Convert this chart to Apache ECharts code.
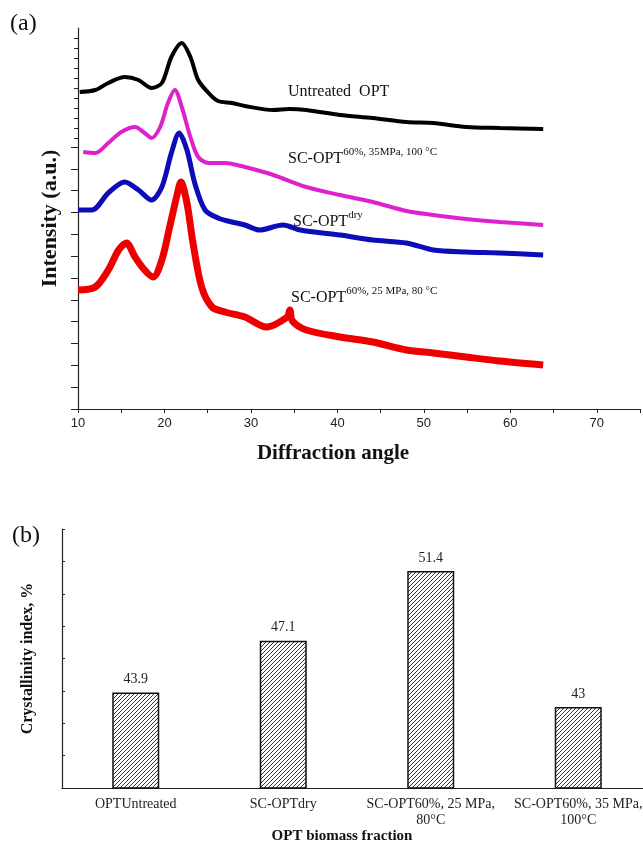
<!DOCTYPE html>
<html>
<head>
<meta charset="utf-8">
<script src="https://cdn.jsdelivr.net/npm/echarts@6/dist/echarts.min.js"></script>
<style>
  html, body { margin: 0; padding: 0; background: #fff; }
  #main { width: 643px; height: 847px; }
</style>
</head>
<body>
<div id="main"></div>
<script>
// (a) XRD patterns, [2theta, intensity a.u.]
const xrdUntreated = [[10.2,317],[12,319],[13.5,326],[15.4,332],[17,329],[18.5,321],[19.7,326],[20.8,352],[22,366],[23,352],[23.9,329],[25.1,316],[26.2,308],[27.8,306],[29.3,303],[32.6,299],[34.4,300],[36.4,299],[40.3,294],[44.1,291],[48,287],[51.1,286],[54.9,282],[58.8,281],[63.8,280]]
const xrd35MPa = [[10.6,257],[12,256],[13.5,266],[15,277],[16.6,282],[17.7,276],[18.5,271],[19.5,282],[20.4,306],[21.2,319],[22,302],[23,272],[23.9,252],[25.1,246],[27,246],[29.3,242],[32.6,234],[36.4,222],[40.3,214],[44.1,207],[48,198],[51.1,194],[54.9,190],[58.8,187],[63.8,184]]
const xrdDry = [[10,199],[11.6,199],[13.5,216],[15.4,227],[17,219],[18.5,209],[19.7,222],[20.8,256],[21.7,276],[22.6,259],[23.5,226],[24.7,199],[26.2,191],[27.8,187],[29.3,184],[31,179],[33.7,184],[35.7,179],[40.3,174],[44.1,169],[48,166],[51.1,159],[54.9,157],[58.8,156],[63.8,154]]
const xrd25MPa = [[10,119],[12,122],[13.5,139],[14.7,159],[15.6,166],[16.6,152],[17.7,139],[18.7,132],[19.7,149],[20.6,182],[21.4,212],[21.9,227],[22.6,206],[23.3,166],[24.3,122],[25.5,102],[27,97],[29.3,92],[31.8,82],[34.2,92],[34.5,99],[34.8,88],[36.4,79],[40.3,72],[44.1,67],[48,59],[51.1,56],[54.9,52],[58.8,48],[63.8,44]]

// (b) crystallinity index
const barCategories = ['OPTUntreated', 'SC-OPTdry', 'SC-OPT60%, 25 MPa,\n80°C', 'SC-OPT60%, 35 MPa,\n100°C']
const crystallinity = [43.9, 47.1, 51.4, 43]

const serif = '"Liberation Serif", "Times New Roman", serif'
const sans = '"Liberation Sans", Arial, sans-serif'

// diagonal hatch for the bars
function hatch() {
  const c = document.createElement('canvas')
  c.width = 4
  c.height = 4
  const ctx = c.getContext('2d')
  ctx.fillStyle = '#fff'
  ctx.fillRect(0, 0, 4, 4)
  ctx.strokeStyle = '#333'
  ctx.lineWidth = 1
  ctx.beginPath()
  ctx.moveTo(0, 4); ctx.lineTo(4, 0)
  ctx.moveTo(-1, 1); ctx.lineTo(1, -1)
  ctx.moveTo(3, 5); ctx.lineTo(5, 3)
  ctx.stroke()
  return c
}

function xrdLine(data, color, width) {
  return {
    type: 'line',
    xAxisIndex: 0,
    yAxisIndex: 0,
    data: data,
    smooth: 0.3,
    symbol: 'none',
    lineStyle: { color: color, width: width },
  }
}

function supLabel(x, y, main, sup) {
  return {
    type: 'text',
    left: x,
    top: y,
    style: {
      text: '{m|' + main + '}{s|' + sup + '}',
      fill: '#111',
      rich: {
        m: { fontFamily: serif, fontSize: 16, lineHeight: 20, verticalAlign: 'bottom', fill: '#111' },
        s: { fontFamily: serif, fontSize: 11, lineHeight: 12, verticalAlign: 'top', fill: '#111' },
      },
    },
  }
}

const myChart = echarts.init(document.getElementById('main'))
const option = {
  animation: false,
  backgroundColor: '#fff',
  grid: [
    { left: 78, right: 3, top: 28, bottom: 438, outerBoundsMode: 'none' }, // (a) data
    { left: 78, right: 3, top: 38, height: 100, outerBoundsMode: 'none' }, // (a) fine ticks at top
    { left: 78, right: 3, top: 147, bottom: 438, outerBoundsMode: 'none' }, // (a) coarse ticks
    { left: 62, right: -9, top: 529, bottom: 59, outerBoundsMode: 'none' }, // (b)
  ],
  xAxis: [
    {
      gridIndex: 0,
      type: 'value',
      min: 10,
      max: 75,
      interval: 5,
      axisLine: { lineStyle: { color: '#222', width: 1.2 } },
      axisTick: { length: 4, lineStyle: { color: '#222' } },
      axisLabel: {
        margin: 8,
        fontFamily: sans,
        fontSize: 13,
        color: '#222',
        formatter: function (v) { return v % 10 === 0 && v < 75 ? v : '' },
      },
      splitLine: { show: false },
      name: 'Diffraction angle',
      nameLocation: 'middle',
      nameGap: 34,
      nameTextStyle: { fontFamily: serif, fontWeight: 'bold', fontSize: 21, color: '#111', padding: [0, 52, 0, 0] },
    },
    { gridIndex: 1, type: 'value', show: false },
    { gridIndex: 2, type: 'value', show: false },
    {
      gridIndex: 3,
      type: 'category',
      data: barCategories,
      axisLine: { lineStyle: { color: '#222', width: 1.2 } },
      axisTick: { show: false },
      axisLabel: { interval: 0, margin: 8, fontFamily: serif, fontSize: 14, color: '#222', lineHeight: 16 },
      name: 'OPT biomass fraction',
      nameLocation: 'middle',
      nameGap: 38,
      nameTextStyle: { fontFamily: serif, fontWeight: 'bold', fontSize: 15, color: '#111', padding: [0, 30, 0, 0] },
    },
  ],
  yAxis: [
    {
      gridIndex: 0,
      type: 'value',
      min: 0,
      max: 381,
      axisLine: { show: true, lineStyle: { color: '#222', width: 1.2 } },
      axisTick: { show: false },
      axisLabel: { show: false },
      splitLine: { show: false },
      name: 'Intensity (a.u.)',
      nameLocation: 'middle',
      nameGap: 17,
      nameTextStyle: { fontFamily: serif, fontWeight: 'bold', fontSize: 22, color: '#111' },
    },
    {
      gridIndex: 1,
      type: 'value',
      min: 0,
      max: 10,
      interval: 1,
      axisLine: { show: false },
      axisTick: { show: true, length: 4, lineStyle: { color: '#222' } },
      axisLabel: { show: false },
      splitLine: { show: false },
    },
    {
      gridIndex: 2,
      type: 'value',
      min: 0,
      max: 12,
      interval: 1,
      axisLine: { show: false },
      axisTick: { show: true, length: 7, lineStyle: { color: '#222' } },
      axisLabel: { show: false },
      splitLine: { show: false },
    },
    {
      gridIndex: 3,
      type: 'value',
      min: 38,
      max: 54,
      interval: 2,
      axisLine: { show: true, lineStyle: { color: '#222', width: 1.2 } },
      axisTick: { show: true, inside: true, length: 3, lineStyle: { color: '#222' } },
      axisLabel: { show: false },
      splitLine: { show: false },
      name: 'Crystallinity index, %',
      nameLocation: 'middle',
      nameGap: 26,
      nameTextStyle: { fontFamily: serif, fontWeight: 'bold', fontSize: 16, color: '#111' },
    },
  ],
  series: [
    xrdLine(xrdUntreated, '#000000', 4),
    xrdLine(xrd35MPa, '#dd22cc', 4),
    xrdLine(xrdDry, '#0c0cb8', 5),
    xrdLine(xrd25MPa, '#ee0000', 7),
    {
      type: 'bar',
      xAxisIndex: 3,
      yAxisIndex: 3,
      data: crystallinity,
      barWidth: 47,
      itemStyle: {
        color: { image: hatch(), repeat: 'repeat' },
        borderColor: '#111',
        borderWidth: 1.5,
      },
      label: {
        show: true,
        position: 'top',
        distance: 6,
        fontFamily: serif,
        fontSize: 14,
        color: '#222',
      },
    },
  ],
  graphic: [
    { type: 'text', left: 10, top: 12, style: { text: '(a)', font: '24px ' + serif, fill: '#111' } },
    { type: 'text', left: 12, top: 524, style: { text: '(b)', font: '24px ' + serif, fill: '#111' } },
    { type: 'text', left: 288, top: 84, style: { text: 'Untreated  OPT', font: '16px ' + serif, fill: '#111' } },
    supLabel(288, 147, 'SC-OPT', '60%, 35MPa, 100 °C'),
    supLabel(293, 210, 'SC-OPT', 'dry'),
    supLabel(291, 286, 'SC-OPT', '60%, 25 MPa, 80 °C'),
  ],
}
option && myChart.setOption(option)
</script>
</body>
</html>
